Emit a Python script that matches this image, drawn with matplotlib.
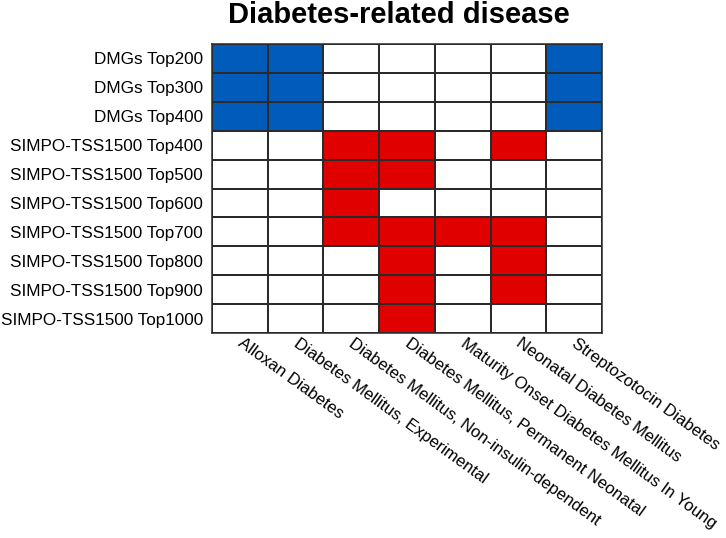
import matplotlib
matplotlib.use("Agg")
import matplotlib.pyplot as plt
import numpy as np
from matplotlib.colors import ListedColormap, BoundaryNorm
from matplotlib.transforms import ScaledTranslation

plt.rcParams['font.family'] = ['Liberation Sans', 'DejaVu Sans']

title = "Diabetes-related disease"
row_labels = ["DMGs Top200", "DMGs Top300", "DMGs Top400",
              "SIMPO-TSS1500 Top400", "SIMPO-TSS1500 Top500", "SIMPO-TSS1500 Top600",
              "SIMPO-TSS1500 Top700", "SIMPO-TSS1500 Top800", "SIMPO-TSS1500 Top900",
              "SIMPO-TSS1500 Top1000"]
col_labels = ["Alloxan Diabetes", "Diabetes Mellitus, Experimental",
              "Diabetes Mellitus, Non-insulin-dependent",
              "Diabetes Mellitus, Permanent Neonatal",
              "Maturity Onset Diabetes Mellitus In Young",
              "Neonatal Diabetes Mellitus", "Streptozotocin Diabetes"]
# 0 = not enriched, 1 = DMGs (blue), 2 = SIMPO (red)
dmgs_top200 = [1, 1, 0, 0, 0, 0, 1]
dmgs_top300 = [1, 1, 0, 0, 0, 0, 1]
dmgs_top400 = [1, 1, 0, 0, 0, 0, 1]
simpo_top400 = [0, 0, 2, 2, 0, 2, 0]
simpo_top500 = [0, 0, 2, 2, 0, 0, 0]
simpo_top600 = [0, 0, 2, 0, 0, 0, 0]
simpo_top700 = [0, 0, 2, 2, 2, 2, 0]
simpo_top800 = [0, 0, 0, 2, 0, 2, 0]
simpo_top900 = [0, 0, 0, 2, 0, 2, 0]
simpo_top1000 = [0, 0, 0, 2, 0, 0, 0]

matrix = np.array([dmgs_top200, dmgs_top300, dmgs_top400, simpo_top400,
                   simpo_top500, simpo_top600, simpo_top700, simpo_top800,
                   simpo_top900, simpo_top1000])

W, H = 726, 538
fig = plt.figure(figsize=(W / 100, H / 100), dpi=100)
ax = fig.add_axes([212 / W, 1 - 333 / H, (602 - 212) / W, (333 - 44) / H])

cmap = ListedColormap(["#ffffff", "#005bbb", "#e00000"])
norm = BoundaryNorm([-0.5, 0.5, 1.5, 2.5], cmap.N)
ax.pcolormesh(matrix, cmap=cmap, norm=norm, edgecolors="#2a2a2a", linewidth=1.1)
ax.set_xlim(0, matrix.shape[1])
ax.set_ylim(matrix.shape[0], 0)

for s in ax.spines.values():
    s.set_color("#2a2a2a")
    s.set_linewidth(1.1)

ax.set_yticks(np.arange(len(row_labels)) + 0.5)
ax.set_yticklabels(row_labels, fontsize=12.3)
ax.set_xticks(np.arange(len(col_labels)) + 0.5)
ax.set_xticklabels(col_labels, fontsize=12.1, rotation=-36, ha="left", va="top",
                   rotation_mode="anchor")
ax.tick_params(axis="y", length=0, pad=6.5)
ax.tick_params(axis="x", length=0, pad=2)
offset = ScaledTranslation(4 / 100, 0, fig.dpi_scale_trans)
for lab in ax.get_xticklabels():
    lab.set_transform(lab.get_transform() + offset)

fig.text(399 / W, 1 - 23 / H, title, fontsize=21, fontweight="bold",
         ha="center", va="baseline")

fig.savefig("out.png", dpi=100)
